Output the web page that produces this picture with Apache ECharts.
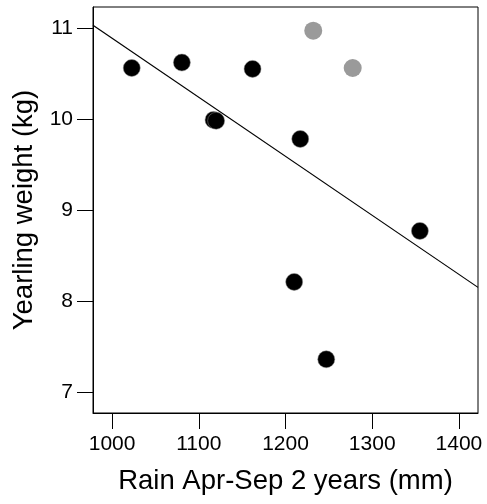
<!DOCTYPE html>
<html>
<head>
<meta charset="utf-8">
<script src="https://cdn.jsdelivr.net/npm/echarts@6/dist/echarts.min.js"></script>
<style>
  html, body { margin: 0; padding: 0; background: #fff; }
  #chart { width: 487px; height: 504px; }
</style>
</head>
<body>
<div id="chart"></div>
<script>
// Yearling weight against two-year April–September rainfall
const rainMain = [1022.7, 1080.5, 1117, 1120, 1162, 1217, 1355, 1210, 1247];
const weightMain = [10.56, 10.62, 9.99, 9.98, 10.55, 9.78, 8.77, 8.21, 7.36];

const rainGrey = [1232, 1277.5];
const weightGrey = [10.97, 10.56];

// fitted trend line, given at the ends of the x range
const trendRain = [978, 1422];
const trendWeight = [11.03, 8.15];

const xTicks = [1000, 1100, 1200, 1300, 1400];
const yTicks = [7, 8, 9, 10, 11];

const FONT = '"Liberation Sans", Arial, Helvetica, sans-serif';

function pairs(xs, ys) { return xs.map((x, i) => [x, ys[i]]); }

const chart = echarts.init(document.getElementById('chart'), null, { renderer: 'canvas' });

chart.setOption({
  animation: false,
  backgroundColor: '#ffffff',
  grid: {
    left: 93, right: 9, top: 7, bottom: 91,
    show: true, borderColor: '#000', borderWidth: 1, backgroundColor: 'transparent'
  },
  xAxis: {
    type: 'value',
    min: 978, max: 1422,
    name: 'Rain Apr-Sep 2 years (mm)',
    nameLocation: 'middle',
    nameGap: 54,
    nameTextStyle: { fontFamily: FONT, fontSize: 27.5, color: '#000' },
    axisLine: { show: true, lineStyle: { color: '#000', width: 1 } },
    axisTick: {
      show: true, inside: false, length: 16,
      customValues: xTicks,
      lineStyle: { color: '#000', width: 1 }
    },
    axisLabel: {
      show: true, margin: 21,
      customValues: xTicks,
      formatter: v => String(v),
      fontFamily: FONT, fontSize: 21, color: '#000'
    },
    splitLine: { show: false }
  },
  yAxis: {
    type: 'value',
    min: 6.77, max: 11.23,
    name: 'Yearling weight (kg)',
    nameLocation: 'middle',
    nameGap: 52,
    nameRotate: 90,
    nameTextStyle: { fontFamily: FONT, fontSize: 27.5, color: '#000' },
    axisLine: { show: true, lineStyle: { color: '#000', width: 1 } },
    axisTick: {
      show: true, inside: false, length: 16,
      customValues: yTicks,
      lineStyle: { color: '#000', width: 1 }
    },
    axisLabel: {
      show: true, margin: 20,
      customValues: yTicks,
      formatter: v => String(v),
      fontFamily: FONT, fontSize: 21, color: '#000'
    },
    splitLine: { show: false }
  },
  series: [
    {
      type: 'line',
      data: pairs(trendRain, trendWeight),
      showSymbol: false,
      symbol: 'none',
      lineStyle: { color: '#000', width: 1.2 },
      z: 2
    },
    {
      type: 'scatter',
      data: pairs(rainGrey, weightGrey),
      symbol: 'circle',
      symbolSize: 18,
      itemStyle: { color: '#9a9a9a', opacity: 1 },
      z: 3
    },
    {
      type: 'scatter',
      data: pairs(rainMain, weightMain),
      symbol: 'circle',
      symbolSize: 17,
      itemStyle: { color: '#000', opacity: 1, borderColor: '#888', borderWidth: 0.5 },
      z: 4
    }
  ]
});
</script>
</body>
</html>
